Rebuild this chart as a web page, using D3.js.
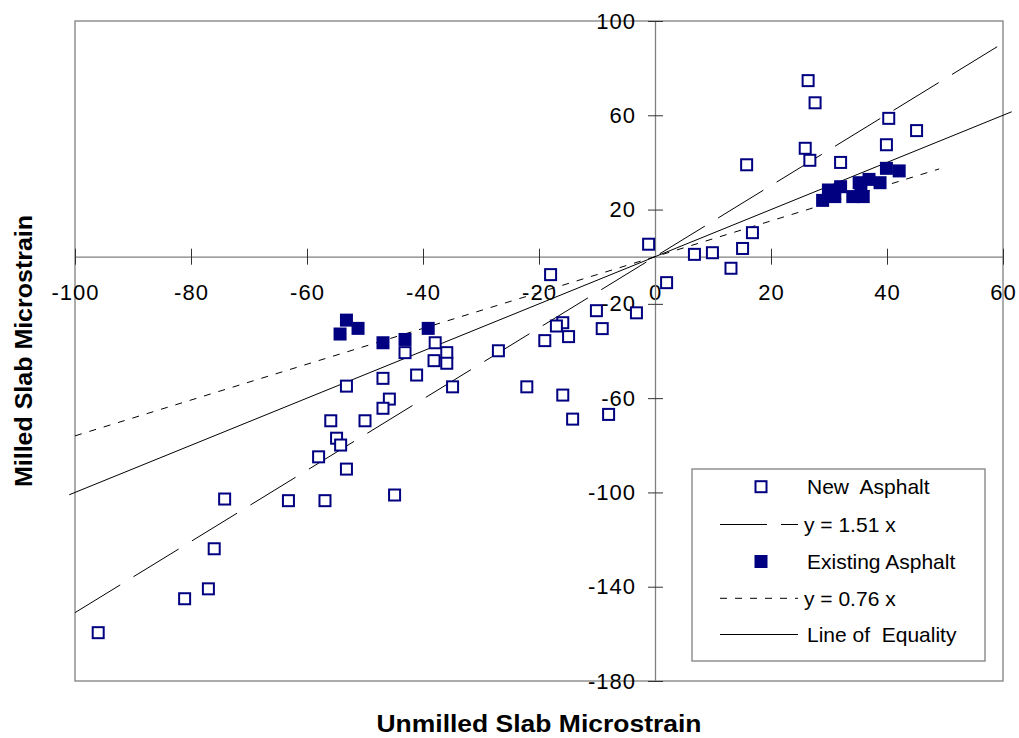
<!DOCTYPE html>
<html>
<head>
<meta charset="utf-8">
<script src="https://cdn.jsdelivr.net/npm/d3@7"></script>
<style>
  html, body { margin: 0; padding: 0; background: #fff; }
  svg { display: block; font-family: "Liberation Sans", Arial, sans-serif; }
</style>
</head>
<body>
<svg id="chart" width="1019" height="738"></svg>
<script>
// ---- Data ----
const newX = [26.4, 27.6, 40.3, 45.1, 39.9, 25.9, 26.7, 32.0, 15.8, 16.8, 15.1, -1.1, 6.8, 9.9, 13.1, 2.0,
  -18.0, -10.1, -3.2, -15.9, -17.0, -9.1, -14.9, -19.0, -27.0, -37.9, -35.9, -38.1, -35.9, -43.1, -41.1,
  -34.9, -46.9, -53.2, -22.1, -15.9, -14.2, -8.0, -45.8, -46.9, -55.9, -50.0, -54.9, -54.2, -58.0, -53.2,
  -74.2, -63.2, -56.9, -44.9, -76.0, -77.0, -81.1, -96.0];
const newY = [74.7, 65.3, 58.7, 53.5, 47.5, 46.0, 40.9, 40.0, 39.0, 10.2, 3.5, 5.3, 1.0, 1.7, -4.9, -11.0,
  -7.6, -22.9, -23.8, -28.0, -29.4, -30.5, -33.9, -35.6, -39.9, -36.5, -40.7, -44.1, -45.2, -40.7, -50.2,
  -55.2, -51.6, -54.9, -55.2, -58.7, -68.9, -66.9, -60.4, -64.3, -69.6, -69.6, -77.0, -79.9, -84.9, -90.1,
  -102.8, -103.5, -103.5, -101.1, -123.9, -140.9, -145.1, -159.5];

const existX = [28.9, 29.9, 31.0, 32.0, 34.1, 35.2, 35.9, 36.9, 38.8, 39.9, 42.1, 35.5,
  -53.2, -51.2, -54.3, -46.9, -43.1, -39.1];
const existY = [23.9, 28.3, 25.5, 29.7, 25.5, 31.4, 25.5, 32.8, 31.4, 37.5, 36.4, 29.0,
  -26.9, -30.4, -32.8, -36.5, -35.1, -30.4];

const xTicks = [-100, -80, -60, -40, -20, 0, 20, 40, 60];
const yTicks = [100, 60, 20, -20, -60, -100, -140, -180];

const fitNames = ["y = 1.51 x", "y = 0.76 x", "Line of Equality"];
const fitSlopes = [1.51, 0.76, 1.0];
const fitFrom = [-100, -100, -101];
const fitTo = [60, 49, 61.5];

const legendLabels = ["New  Asphalt", "y = 1.51 x", "Existing Asphalt", "y = 0.76 x", "Line of  Equality"];

// ---- Layout ----
const svg = d3.select("#chart");
const L = 75, R = 1003, T = 21, B = 681;
const x = d3.scaleLinear().domain([-100, 60]).range([L, R]);
const y = d3.scaleLinear().domain([-180, 100]).range([B, T]);
const navy = "#000080";
const grey = "#808080";
const fmt = d => String(d);  // plain hyphen-minus as in the original

// plot border
svg.append("rect").attr("x", L).attr("y", T).attr("width", R - L).attr("height", B - T)
  .attr("fill", "none").attr("stroke", grey).attr("stroke-width", 1.3);

// x axis through y=0
const xAxis = svg.append("g").attr("transform", `translate(0,${y(0)})`)
  .call(d3.axisBottom(x).tickValues(xTicks).tickFormat(fmt).tickSizeOuter(0));
xAxis.select(".domain").attr("stroke", grey).attr("stroke-width", 1.3);
xAxis.selectAll(".tick line").attr("y1", -8).attr("y2", 8).attr("stroke", "#333");
xAxis.selectAll(".tick text").attr("y", 28).attr("font-size", 22)
  .attr("font-family", "Liberation Sans, Arial, sans-serif").attr("fill", "#000")
  .style("letter-spacing", "1px");

// y axis through x=0
const yAxis = svg.append("g").attr("transform", `translate(${x(0)},0)`)
  .call(d3.axisLeft(y).tickValues(yTicks).tickFormat(fmt).tickSizeOuter(0));
yAxis.select(".domain").attr("stroke", grey).attr("stroke-width", 1.3);
yAxis.selectAll(".tick line").attr("x1", -7).attr("x2", 8).attr("stroke", "#333");
yAxis.selectAll(".tick text").attr("x", -19).attr("font-size", 22)
  .attr("font-family", "Liberation Sans, Arial, sans-serif").attr("fill", "#000")
  .style("letter-spacing", "1px");

// fit lines
const dashes = ["53,15.6", "7,8", null];
const lineGen = d3.line().x(d => x(d[0])).y(d => y(d[1]));
fitSlopes.forEach((s, i) => {
  svg.append("path")
    .attr("d", lineGen([[fitFrom[i], s * fitFrom[i]], [fitTo[i], s * fitTo[i]]]))
    .attr("fill", "none").attr("stroke", "#000").attr("stroke-width", 1)
    .attr("stroke-dasharray", dashes[i]);
});

// markers
const newPts = newX.map((v, i) => [v, newY[i]]);
const exPts = existX.map((v, i) => [v, existY[i]]);
svg.append("g").selectAll("rect").data(newPts).join("rect")
  .attr("x", d => x(d[0]) - 5.5).attr("y", d => y(d[1]) - 5.5)
  .attr("width", 11).attr("height", 11)
  .attr("fill", "#fff").attr("stroke", navy).attr("stroke-width", 2);
svg.append("g").selectAll("rect").data(exPts).join("rect")
  .attr("x", d => x(d[0]) - 6.5).attr("y", d => y(d[1]) - 6.5)
  .attr("width", 13).attr("height", 13)
  .attr("fill", navy).attr("stroke", "none");

// legend
const lg = svg.append("g");
lg.append("rect").attr("x", 692).attr("y", 469).attr("width", 293).attr("height", 192)
  .attr("fill", "#fff").attr("stroke", grey).attr("stroke-width", 1.3);
const rowY = [486.7, 524.5, 561.5, 598.3, 634.5];
lg.append("rect").attr("x", 755.5).attr("y", rowY[0] - 5.5).attr("width", 11).attr("height", 11)
  .attr("fill", "#fff").attr("stroke", navy).attr("stroke-width", 2);
lg.append("rect").attr("x", 754.5).attr("y", rowY[2] - 6.5).attr("width", 13).attr("height", 13)
  .attr("fill", navy);
[[1, "47,14"], [3, "7,8"], [4, null]].forEach(([r, da]) => {
  lg.append("line").attr("x1", 720).attr("x2", 798).attr("y1", rowY[r]).attr("y2", rowY[r])
    .attr("stroke", "#000").attr("stroke-width", 1).attr("stroke-dasharray", da);
});
legendLabels.forEach((t, i) => {
  lg.append("text").attr("x", i === 1 || i === 3 ? 804 : 807).attr("y", rowY[i]).attr("dy", "0.35em")
    .attr("font-size", 21).attr("fill", "#000").style("white-space", "pre")
    .attr("xml:space", "preserve").text(t);
});

// axis titles
svg.append("text").attr("x", (L + R) / 2).attr("y", 731.5).attr("text-anchor", "middle")
  .attr("font-size", 23).attr("font-weight", "bold")
  .attr("textLength", 325).attr("lengthAdjust", "spacingAndGlyphs")
  .text("Unmilled Slab Microstrain");
svg.append("text").attr("transform", `translate(31.5,${(T + B) / 2}) rotate(-90)`)
  .attr("text-anchor", "middle")
  .attr("font-size", 24).attr("font-weight", "bold")
  .attr("textLength", 272).attr("lengthAdjust", "spacingAndGlyphs")
  .text("Milled Slab Microstrain");
</script>
</body>
</html>
